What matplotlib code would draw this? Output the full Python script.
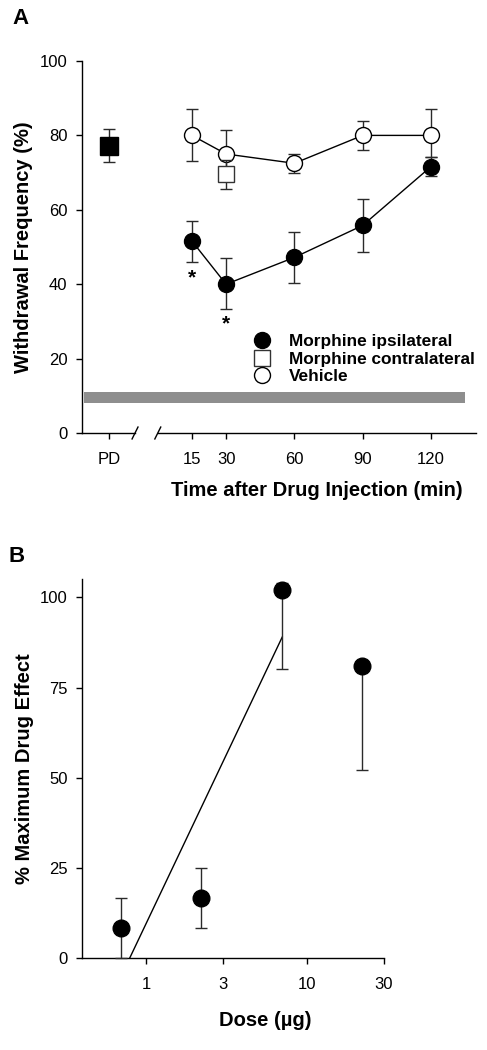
import matplotlib
matplotlib.use("Agg")
import matplotlib.pyplot as plt
from matplotlib.lines import Line2D
from matplotlib.ticker import FixedLocator, NullLocator, FixedFormatter

plt.rcParams['font.family'] = ['Liberation Sans', 'DejaVu Sans']

# ---- panel A data (minutes after injection) ----
times = [15, 30, 60, 90, 120]
tick_labels_a = ['PD', '15', '30', '60', '90', '120']

vehicle = [80, 75, 72.5, 80, 80]
vehicle_lo = [73, 68.6, 70, 76, 74.3]
vehicle_hi = [87, 81.4, 75, 84, 87]

ipsi = [51.6, 40, 47.2, 55.8, 71.6]
ipsi_lo = [46, 33.2, 40.4, 48.7, 69.1]
ipsi_hi = [57, 47.1, 54.1, 63, 74.3]

contra_t = [30]
contra = [69.7]
contra_lo = [65.5]
contra_hi = [73.5]

pd_val = [77.2]
pd_lo = [72.8]
pd_hi = [81.6]

star_t = [15, 30]
star_y = [41.8, 29.2]

baseline_band = (8.1, 11.0)   # grey band, % withdrawal

# ---- panel B data ----
dose = [0.70, 2.2, 7.0, 22]
effect = [8.3, 16.8, 102, 81]
effect_lo = [0, 8.3, 80.1, 52.1]
effect_hi = [16.8, 25.1, 104, 81]
fit_dose = [0.79, 7.0]
fit_effect = [0, 89]

pd_pos = -21.5   # where the pre-drug point sits on the time axis
ecol = '#2a2a2a'

fig = plt.figure(figsize=(4.87, 10.5), dpi=100)

# ================= Panel A =================
axA = fig.add_axes([82/487, 1-433/1050, 394/487, 372/1050])
axA.set_xlim(-33.3, 139.8)
axA.set_ylim(0, 100)

axA.bar(-32.6 + (135 + 32.6)/2, baseline_band[1]-baseline_band[0], width=135+32.6,
        bottom=baseline_band[0], color='#8e8e8e', zorder=1)

def err(lo, hi, y):
    return [[v - l for v, l in zip(y, lo)], [h - v for v, h in zip(y, hi)]]

kw = dict(ecolor=ecol, elinewidth=1.0, capsize=4.3, capthick=1.0, clip_on=False)
axA.errorbar(times, vehicle, yerr=err(vehicle_lo, vehicle_hi, vehicle), fmt='o-',
             color='black', lw=1.0, ms=11.5, mfc='white', mec='black', mew=1.0,
             zorder=3, **kw)
axA.errorbar(contra_t, contra, yerr=err(contra_lo, contra_hi, contra), fmt='s',
             ms=11, mfc='white', mec='#333333', mew=1.0, zorder=4, **kw)
axA.errorbar(times, ipsi, yerr=err(ipsi_lo, ipsi_hi, ipsi), fmt='o-',
             color='black', lw=1.0, ms=11.5, mfc='black', mec='black',
             zorder=5, **kw)
axA.errorbar([pd_pos], pd_val, yerr=err(pd_lo, pd_hi, pd_val), fmt='s',
             ms=12.5, mfc='black', mec='black', zorder=5, **kw)

for t, s in zip(star_t, star_y):
    axA.text(t, s, '*', ha='center', va='center', fontsize=15, fontweight='bold')

for side in ['top', 'right', 'bottom']:
    axA.spines[side].set_visible(False)
axA.spines['left'].set_linewidth(1.0)

# broken x axis
trans = axA.get_xaxis_transform()
axA.plot([-33.3, -10], [0, 0], color='black', lw=1.0, transform=trans, clip_on=False)
axA.plot([0, 139.8], [0, 0], color='black', lw=1.0, transform=trans, clip_on=False)
for bx in [-10, 0]:
    axA.plot([bx - 1.3, bx + 1.3], [-0.016, 0.016], color='black', lw=1.0,
             transform=trans, clip_on=False)

axA.set_xticks([pd_pos] + times)
axA.set_xticklabels(tick_labels_a)
axA.set_yticks([0, 20, 40, 60, 80, 100])
axA.tick_params(axis='both', direction='out', length=4.5, width=1.0, labelsize=12)
axA.tick_params(axis='x', pad=9)
axA.tick_params(axis='y', pad=6)

axA.set_ylabel('Withdrawal Frequency (%)', fontsize=14.5, fontweight='bold')
axA.yaxis.set_label_coords(-0.125, 0.5)
fig.text(317/487, 1-490/1050, 'Time after Drug Injection (min)', fontsize=14.5,
         fontweight='bold', ha='center', va='center')

handles = [
    Line2D([], [], ls='none', marker='o', ms=11.5, mfc='black', mec='black'),
    Line2D([], [], ls='none', marker='s', ms=11, mfc='white', mec='#333333'),
    Line2D([], [], ls='none', marker='o', ms=11.5, mfc='white', mec='black'),
]
labels = ['Morphine ipsilateral', 'Morphine contralateral', 'Vehicle']
axA.legend(handles, labels, loc='upper left', bbox_to_anchor=(0.418, 0.285),
           frameon=False, prop={'size': 12.4, 'weight': 'bold'},
           handletextpad=1.05, labelspacing=0.15, handlelength=1.0, borderaxespad=0)

fig.text(12/487, 1-18/1050, 'A', fontsize=16, fontweight='bold', va='center', ha='left')

# ================= Panel B =================
axB = fig.add_axes([82/487, 1-958.3/1050, 302/487, 379.3/1050])
axB.set_xscale('log')
axB.set_xlim(0.4, 30)
axB.set_ylim(0, 105.1)

axB.plot(fit_dose, fit_effect, color='black', lw=1.0, zorder=2)
axB.errorbar(dose, effect, yerr=err(effect_lo, effect_hi, effect), fmt='o',
             ms=12, mfc='black', mec='black', zorder=3, **kw)

for side in ['top', 'right']:
    axB.spines[side].set_visible(False)
axB.spines['left'].set_linewidth(1.0)
axB.spines['bottom'].set_linewidth(1.0)

axB.xaxis.set_major_locator(FixedLocator([1, 3, 10, 30]))
axB.xaxis.set_major_formatter(FixedFormatter(['1', '3', '10', '30']))
axB.xaxis.set_minor_locator(NullLocator())
axB.set_yticks([0, 25, 50, 75, 100])
axB.tick_params(axis='both', direction='out', length=4.5, width=1.0, labelsize=12)
axB.tick_params(axis='x', pad=9)
axB.tick_params(axis='y', pad=6)

axB.set_ylabel('% Maximum Drug Effect', fontsize=14.5, fontweight='bold')
axB.yaxis.set_label_coords(-0.16, 0.5)
fig.text(265/487, 1-1020/1050, 'Dose (\u00b5g)', fontsize=14.5, fontweight='bold',
         ha='center', va='center')

fig.text(8/487, 1-557/1050, 'B', fontsize=16, fontweight='bold', va='center', ha='left')

fig.savefig('out.png', dpi=100)
